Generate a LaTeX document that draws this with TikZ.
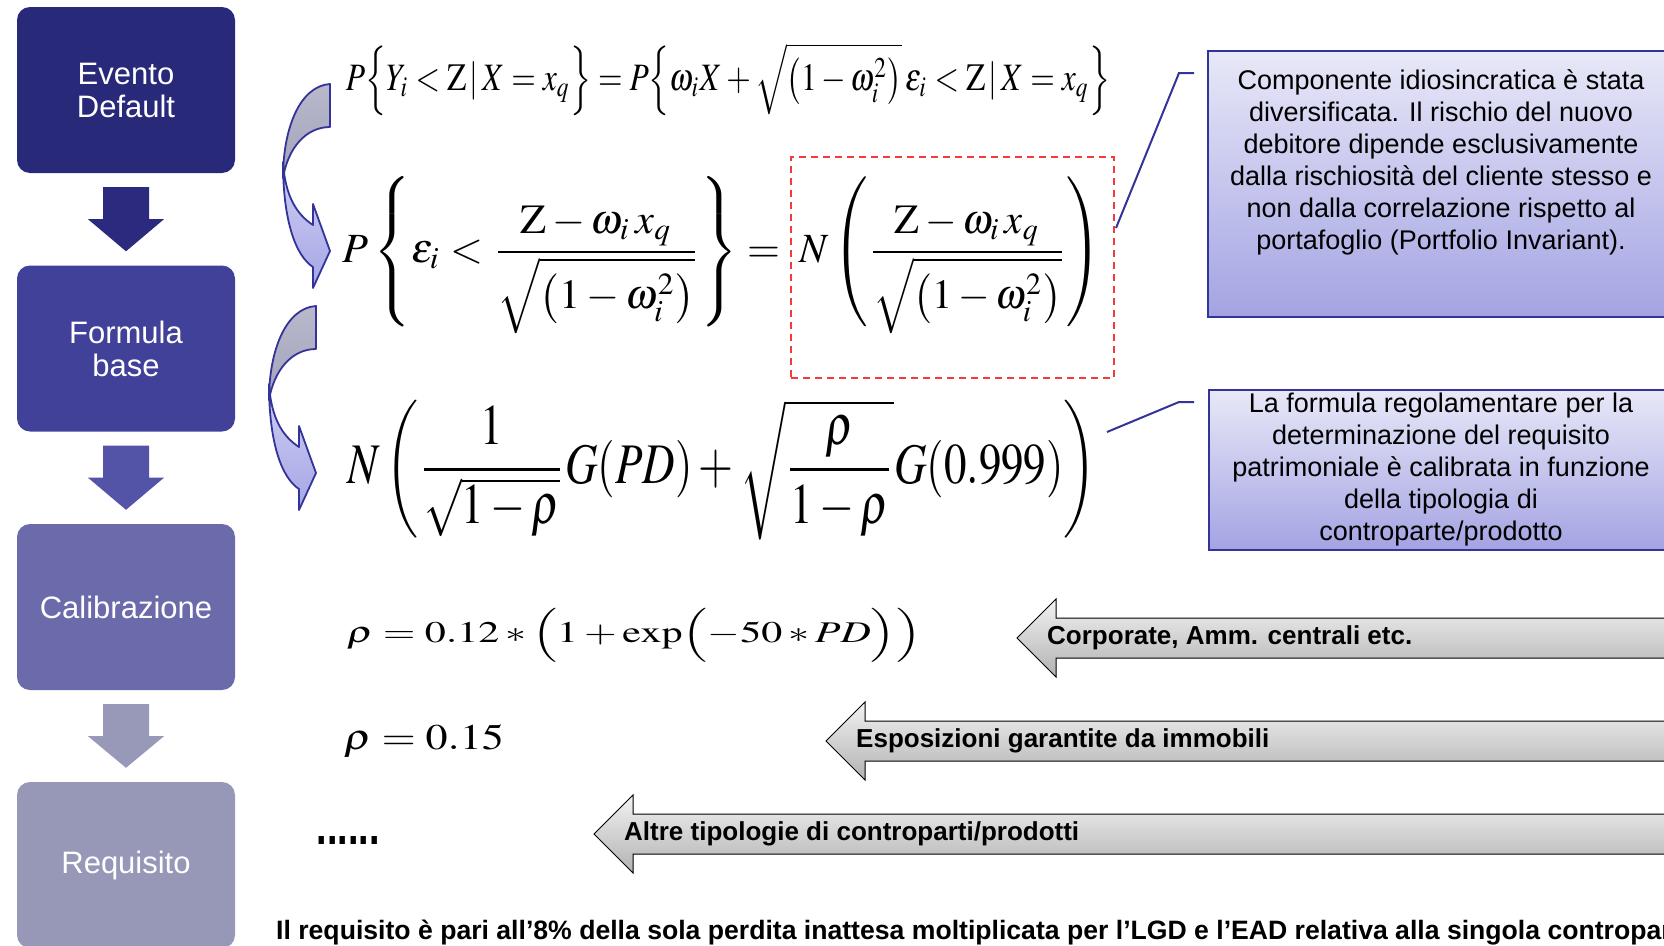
\documentclass[tikz,border=0pt]{standalone}
\usepackage{amsmath}
\usepackage{mathptmx}
\usepackage[no-math]{fontspec}
\setmainfont{Liberation Sans}
\usepackage{tikz}
\usetikzlibrary{calc, positioning}

\definecolor{stageA}{HTML}{29297A}
\definecolor{stageB}{HTML}{424199}
\definecolor{stageC}{HTML}{6B6AAA}
\definecolor{stageD}{HTML}{9797B7}
\definecolor{arrA}{HTML}{2B2A7E}
\definecolor{arrB}{HTML}{5353A8}
\definecolor{arrC}{HTML}{9898B8}
\definecolor{noteline}{HTML}{333399}
\definecolor{notetop}{HTML}{E8E8F8}
\definecolor{notebot}{HTML}{A3A3E3}
\definecolor{bendtop}{HTML}{B9B9CB}
\definecolor{bendmid}{HTML}{A2A2BC}
\definecolor{bendlow}{HTML}{CFCFF3}
\definecolor{bendbot}{HTML}{A6A6E5}
\definecolor{greytop}{HTML}{F2F2F2}
\definecolor{greybot}{HTML}{B2B2B2}
\definecolor{redline}{HTML}{F03C3C}

\begin{document}
\begin{tikzpicture}[x=1pt, y=-1pt,
	stage/.style={rounded corners=13pt, minimum width=218pt, minimum height=166pt,
		inner sep=0pt, text=white, align=center, font=\fontsize{31}{33}\selectfont},
	notebox/.style={draw=noteline, line width=2pt, top color=notetop, bottom color=notebot,
		minimum width=480pt, anchor=north west, inner sep=0pt},
	notetext/.style={align=center, inner sep=0pt, font=\fontsize{27}{32}\selectfont},
	formula/.style={inner sep=0pt},
	curvearr/.style={draw=noteline, line width=1.8pt, line join=round},
	callout/.style={draw=noteline, line width=2pt},
	tag/.style={anchor=west, inner sep=0pt, font=\bfseries\fontsize{26}{30}\selectfont}
	]
	\useasboundingbox (0,0) rectangle (1664,945);
	\clip (0,0) rectangle (1664,945);
	
	% fasi a sinistra
	\node[stage, fill=stageA] (evento) at (126,90) {Evento\\Default};
	\node[stage, fill=stageB] (formula) at (126,348.5) {Formula\\base};
	\node[stage, fill=stageC] (calib) at (126,607) {Calibrazione};
	\node[stage, fill=stageD] (requis) at (126,865) {Requisito};
	
	% frecce tra le fasi
	\foreach \a/\b/\c in {evento/formula/arrA, formula/calib/arrB, calib/requis/arrC}
	\fill[\c] ($(\a.south)+(-23,14)$) -- ++(46,0) -- ++(0,32) -- ++(15,0)
		-- ($(\b.north)+(0,-14)$) -- ($(\a.south)+(-38,46)$) -- ++(15,0) -- cycle;
	
	% frecce curve
	\foreach \dx/\dy in {0/0, -14/222}
	{
		\begin{scope}[shift={(\dx,\dy)}]
			\path[curvearr, top color=bendtop, bottom color=bendmid]
				(330,84) .. controls (300,86) and (283,128) .. (283,178)
				.. controls (288,148) and (306,127) .. (330,127) -- cycle;
			\path[curvearr, top color=bendlow, bottom color=bendbot]
				(283,162) .. controls (283,222) and (296,256) .. (313,267)
				-- (313,288) -- (330,251) -- (313,204) -- (313,225)
				.. controls (296,214) and (285,195) .. (283,162) -- cycle;
		\end{scope}
	}
	
	% formule
	\node[formula] (eqa) at (728,79.5) {\resizebox*{764pt}{73pt}{$P\Bigl\{Y_i<\mathrm{Z}\,|\,X=x_q\Bigr\}=P\Bigl\{\omega_i X+\sqrt{\bigl(1-\omega_i^2\bigr)}\,\varepsilon_i<\mathrm{Z}\,|\,X=x_q\Bigr\}$}};
	\node[formula] (eqb) at (561.5,255.5) {\resizebox*{437pt}{157pt}{$\displaystyle P\left\{\varepsilon_i<\frac{\mathrm{Z}-\omega_i\, x_q}{\sqrt{\left(1-\omega_i^2\right)}}\right\}=$}};
	\node[formula] (eqn) at (950.5,255.5) {\resizebox*{303pt}{157pt}{$\displaystyle N\left(\frac{\mathrm{Z}-\omega_i\, x_q}{\sqrt{\left(1-\omega_i^2\right)}}\right)$}};
	\node[formula] (eqc) at (722.5,470) {\resizebox*{749pt}{140pt}{$\displaystyle N\left(\frac{1}{\sqrt{1-\rho}}G(PD)+\sqrt{\frac{\rho}{1-\rho}}G(0.999)\right)$}};
	\node[formula] (eqd) at (634,635) {\resizebox*{574pt}{54pt}{$\rho=0.12*\Bigl(1+\exp\Bigl(-50*PD\Bigr)\Bigr)$}};
	\node[formula] (eqe) at (424,741.5) {\resizebox*{160pt}{33pt}{$\rho=0.15$}};
	\node[formula] (dots) at (348,840) {\resizebox*{63pt}{8pt}{\textbf{......}}};
	
	% riquadro tratteggiato
	\node[draw=redline, dash pattern=on 7pt off 5pt, line width=1.5pt, minimum width=323pt,
		minimum height=221pt, anchor=north west] (nbox) at (790,156) {};
	
	% note a destra
	\node[notebox, minimum height=266pt] (noteA) at (1207,50) {};
	\node[notetext] (txtA) at (1441,162) {Componente idiosincratica è stata\\diversificata. Il rischio del nuovo\\debitore dipende esclusivamente\\dalla rischiosità del cliente stesso e\\non dalla correlazione rispetto al\\portafoglio (Portfolio Invariant).};
	\node[notebox, minimum height=160pt] (noteB) at (1208,389) {};
	\node[notetext] (txtB) at (1441,470) {La formula regolamentare per la\\determinazione del requisito\\patrimoniale è calibrata in funzione\\della tipologia di\\controparte/prodotto};
	
	\coordinate (ka1) at (1194,73);
	\coordinate (ka2) at (1179,73);
	\coordinate (ka3) at (1116,228);
	\coordinate (kb1) at (1194,402);
	\coordinate (kb2) at (1179,402);
	\coordinate (kb3) at (1107,432);
	\draw[callout] (ka1) -- (ka2) -- (ka3);
	\draw[callout] (kb1) -- (kb2) -- (kb3);
	
	% frecce grigie
	\foreach \tip/\mid/\lbl/\name in {1017/638/{Corporate, Amm. centrali etc.}/corp,
		826/741/{Esposizioni garantite da immobili}/espo,
		594/834/{Altre tipologie di controparti/prodotti}/altre}
	{
		\draw[line width=1pt, top color=greytop, bottom color=greybot]
			(\tip,\mid) -- ++(39,-39) -- ++(0,19) -- (1680,\mid-20) -- (1680,\mid+20)
			-- ({\tip+39},\mid+20) -- ++(0,19) -- cycle;
		\node[tag] (\name) at ({\tip+30},\mid) {\lbl};
	}
	
	\node[anchor=west, inner sep=0pt, font=\bfseries\fontsize{26.6}{30}\selectfont] (nota)
		at (276,933) {Il requisito è pari all’8\% della sola perdita inattesa moltiplicata per l’LGD e l’EAD relativa alla singola controparte};
\end{tikzpicture}
\end{document}
